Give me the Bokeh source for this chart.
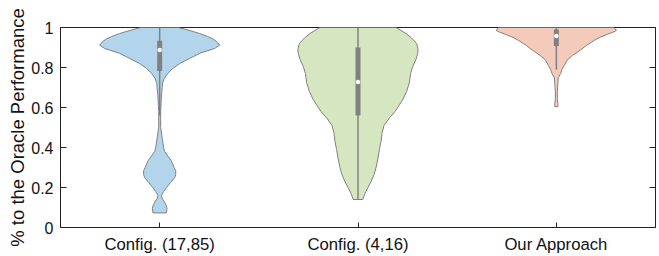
from bokeh.plotting import figure
from bokeh.models import LinearAxis, FixedTicker, Range1d, ColumnDataSource
from bokeh.embed import file_html
from bokeh.resources import INLINE

# ---- data ----
categories = ["Config. (17,85)", "Config. (4,16)", "Our Approach"]
positions = [0.5, 1.5, 2.5]
colors = ["#b2d5eb", "#d6e6c1", "#f4cbba"]

y_ticks = [0, 0.2, 0.4, 0.6, 0.8, 1]
y_tick_labels = ["0", "0.2", "0.4", "0.6", "0.8", "1"]

# violin density profiles: value levels and half widths (x data units)
v1_y = [1.00, 0.985, 0.97, 0.955, 0.944, 0.93, 0.912, 0.895, 0.871, 0.845, 0.82, 0.795, 0.77,
        0.745, 0.724, 0.70, 0.67, 0.64, 0.58, 0.50, 0.446, 0.40, 0.38, 0.333, 0.30, 0.284,
        0.265, 0.25, 0.225, 0.20, 0.18, 0.16, 0.145, 0.127, 0.11, 0.095, 0.073]
v1_w = [0.096, 0.151, 0.202, 0.242, 0.267, 0.287, 0.303, 0.277, 0.202, 0.151, 0.101, 0.066, 0.040,
        0.023, 0.015, 0.013, 0.010, 0.008, 0.005, 0.005, 0.013, 0.020, 0.025, 0.059, 0.073, 0.081,
        0.081, 0.076, 0.055, 0.035, 0.020, 0.009, 0.013, 0.025, 0.033, 0.037, 0.034]

v2_y = [1.00, 0.985, 0.97, 0.95, 0.92, 0.89, 0.87, 0.84, 0.805, 0.77, 0.724, 0.68, 0.642, 0.61,
        0.578, 0.545, 0.51, 0.47, 0.43, 0.39, 0.348, 0.30, 0.265, 0.23, 0.20, 0.17, 0.14]
v2_w = [0.192, 0.217, 0.242, 0.267, 0.296, 0.303, 0.301, 0.292, 0.276, 0.265, 0.259, 0.245, 0.227, 0.207,
        0.185, 0.156, 0.131, 0.121, 0.116, 0.108, 0.101, 0.091, 0.081, 0.066, 0.050, 0.035, 0.024]

v3_y = [1.00, 0.985, 0.977, 0.966, 0.95, 0.936, 0.91, 0.887, 0.86, 0.838, 0.81, 0.789, 0.77,
        0.75, 0.72, 0.68, 0.64, 0.62, 0.604]
v3_w = [0.292, 0.303, 0.287, 0.257, 0.217, 0.192, 0.151, 0.121, 0.081, 0.055, 0.040, 0.028, 0.022,
        0.010, 0.008, 0.005, 0.005, 0.008, 0.008]

q1 = [0.783, 0.56, 0.907]
q3 = [0.934, 0.90, 0.990]
medians = [0.887, 0.728, 0.958]
whisk_lo = [0.56, 0.14, 0.79]
whisk_hi = [1.0, 1.0, 1.0]

profiles = [(v1_y, v1_w), (v2_y, v2_w), (v3_y, v3_w)]

# ---- figure ----
p = figure(width=659, height=256, x_range=Range1d(0, 3), y_range=Range1d(0, 1),
           output_backend="svg", toolbar_location=None, tools="",
           min_border_left=60, min_border_right=4, min_border_top=27, min_border_bottom=25)
p.xgrid.visible = False
p.ygrid.visible = False
p.outline_line_color = "#222222"
p.outline_line_width = 1
p.background_fill_color = "white"
p.border_fill_color = "white"

FONT = "Liberation Sans"

for pos, (ys, ws), col in zip(positions, profiles, colors):
    xs = [pos - w for w in ws] + [pos + w for w in reversed(ws)]
    yy = list(ys) + list(reversed(ys))
    p.patch(xs, yy, fill_color=col, line_color="#808080", line_width=1)

src = ColumnDataSource(dict(x=positions, q1=q1, q3=q3, med=medians, lo=whisk_lo, hi=whisk_hi))
p.segment(x0="x", y0="lo", x1="x", y1="hi", source=src, line_color="#808080", line_width=1.5)
p.vbar(x="x", bottom="q1", top="q3", width=0.025, source=src, fill_color="#808080", line_color=None)
p.scatter(x="x", y="med", source=src, size=4.5, fill_color="white", line_color=None)

# axes
xa = p.xaxis[0]
xa.ticker = FixedTicker(ticks=positions)
xa.major_label_overrides = {pos: lab for pos, lab in zip(positions, categories)}
xa.major_tick_in = 5
xa.major_tick_out = 0
xa.minor_tick_line_color = None
xa.axis_line_color = "#222222"
xa.major_tick_line_color = "#222222"
xa.major_label_text_font = FONT
xa.major_label_text_font_size = "16.7px"
xa.major_label_text_color = "#111111"
xa.major_label_standoff = 7

ya = p.yaxis[0]
ya.ticker = FixedTicker(ticks=y_ticks)
ya.major_label_overrides = {t: l for t, l in zip(y_ticks, y_tick_labels)}
ya.major_tick_in = 6
ya.major_tick_out = 0
ya.minor_tick_line_color = None
ya.axis_line_color = "#222222"
ya.major_tick_line_color = "#222222"
ya.major_label_text_font = FONT
ya.major_label_text_font_size = "16px"
ya.major_label_text_color = "#111111"
ya.major_label_standoff = 7
ya.axis_label = "% to the Oracle Performance"
ya.axis_label_text_font = FONT
ya.axis_label_text_font_size = "18.5px"
ya.axis_label_text_font_style = "normal"
ya.axis_label_text_color = "#111111"
ya.axis_label_standoff = 0

ra = LinearAxis(ticker=FixedTicker(ticks=y_ticks))
ra.major_tick_in = 6
ra.major_tick_out = 0
ra.minor_tick_line_color = None
ra.axis_line_color = "#222222"
ra.major_tick_line_color = "#222222"
ra.major_label_overrides = {t: "" for t in y_ticks}
ra.major_label_standoff = 0
p.add_layout(ra, "right")

open("out.html", "w").write(file_html(p, INLINE))
